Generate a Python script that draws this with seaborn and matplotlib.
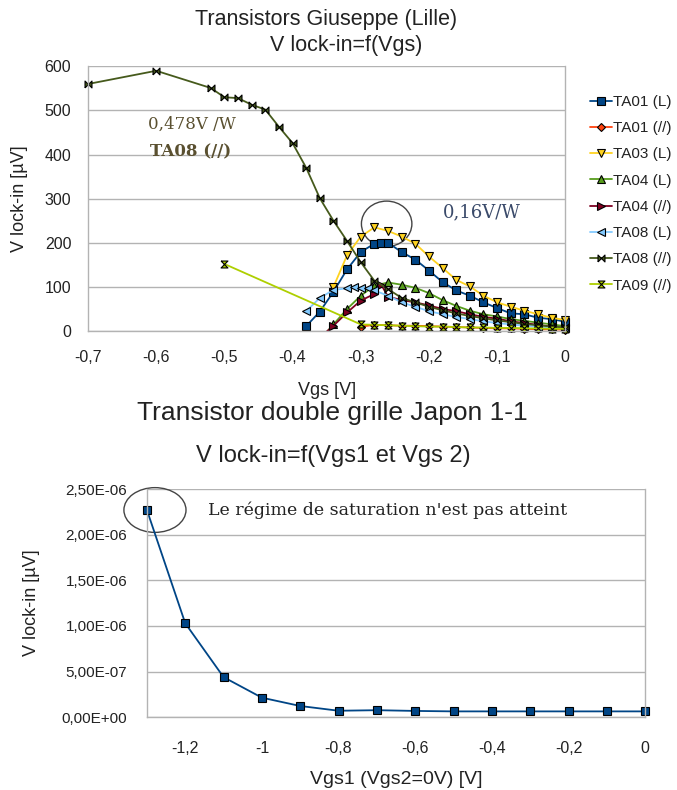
import numpy as np
import pandas as pd
import matplotlib
matplotlib.use("Agg")
import matplotlib.pyplot as plt
from matplotlib.patches import Ellipse
import seaborn as sns

# --- top chart: V lock-in = f(Vgs), one list pair per transistor ---
ta01_l_x = [-0.38, -0.36, -0.34, -0.32, -0.30, -0.28, -0.27, -0.26, -0.24, -0.22, -0.20,
            -0.18, -0.16, -0.14, -0.12, -0.10, -0.08, -0.06, -0.04, -0.02, 0.0]
ta01_l_y = [11, 44, 89, 140, 179, 198, 200, 200, 179, 162, 137,
            111, 92, 80, 65, 52, 40, 38, 30, 27, 21]

ta01_p_x = [-0.30, -0.28, -0.26, -0.24, -0.22, -0.20, -0.18, -0.16, -0.14, -0.12, -0.10,
            -0.08, -0.06, -0.04, -0.02, 0.0]
ta01_p_y = [10, 14, 13, 12, 12, 11, 10, 9, 8, 7, 6, 6, 5, 4, 4, 3]

ta03_l_x = [-0.34, -0.32, -0.30, -0.28, -0.26, -0.24, -0.22, -0.20, -0.18, -0.16, -0.14,
            -0.12, -0.10, -0.08, -0.06, -0.04, -0.02, 0.0]
ta03_l_y = [100, 172, 214, 235, 227, 214, 198, 169, 143, 116, 101, 80, 65, 55, 46, 38, 30, 25]

ta04_l_x = [-0.36, -0.34, -0.32, -0.30, -0.28, -0.26, -0.24, -0.22, -0.20, -0.18, -0.16,
            -0.14, -0.12, -0.10, -0.08, -0.06, -0.04, -0.02, 0.0]
ta04_l_y = [-20, 15, 50, 80, 103, 110, 105, 98, 86, 70, 57, 46, 38, 33, 27, 23, 19, 15, 11]

ta04_p_x = [-0.36, -0.34, -0.32, -0.30, -0.28, -0.27, -0.26, -0.24, -0.22, -0.20, -0.18,
            -0.16, -0.14, -0.12, -0.10, -0.08, -0.06, -0.04, -0.02, 0.0]
ta04_p_y = [-15, 12, 42, 69, 84, 105, 78, 70, 65, 58, 50, 45, 38, 32, 28, 22, 18, 14, 10, 7]

ta08_l_x = [-0.38, -0.36, -0.34, -0.32, -0.31, -0.30, -0.29, -0.28, -0.26, -0.24, -0.22,
            -0.20, -0.18, -0.16, -0.14, -0.12, -0.10, -0.08, -0.06, -0.04, -0.02, 0.0]
ta08_l_y = [45, 75, 93, 97, 99, 98, 97, 92, 80, 65, 55, 45, 38, 32, 27, 22, 18, 15, 12, 10, 8, 6]

ta08_p_x = [-0.70, -0.60, -0.52, -0.50, -0.48, -0.46, -0.44, -0.42, -0.40, -0.38, -0.36,
            -0.34, -0.32, -0.30, -0.28, -0.26, -0.24, -0.22, -0.20, -0.18, -0.16, -0.14,
            -0.12, -0.10, -0.08, -0.06, -0.04, -0.02, 0.0]
ta08_p_y = [560, 590, 551, 530, 528, 513, 502, 463, 426, 370, 301, 250, 204, 156, 114,
            95, 75, 65, 55, 47, 40, 34, 29, 24, 20, 16, 13, 10, 8]

ta09_p_x = [-0.50, -0.30, -0.28, -0.26, -0.24, -0.22, -0.20, -0.18, -0.16, -0.14, -0.12,
            -0.10, -0.08, -0.06, -0.04, -0.02, 0.0]
ta09_p_y = [152, 15, 14, 13, 12, 11, 10, 10, 9, 8, 8, 7, 7, 6, 6, 5, 5]

top_xticks = [-0.7, -0.6, -0.5, -0.4, -0.3, -0.2, -0.1, 0.0]
top_xlabels = ["-0,7", "-0,6", "-0,5", "-0,4", "-0,3", "-0,2", "-0,1", "0"]
top_yticks = [0, 100, 200, 300, 400, 500, 600]

# --- bottom chart: double gate transistor ---
vgs1 = [-1.3, -1.2, -1.1, -1.0, -0.9, -0.8, -0.7, -0.6, -0.5, -0.4, -0.3, -0.2, -0.1, 0.0]
vlock = [2.27e-6, 1.03e-6, 4.4e-7, 2.15e-7, 1.24e-7, 7.2e-8, 7.8e-8, 7.0e-8, 6.5e-8,
         6.5e-8, 6.5e-8, 6.5e-8, 6.5e-8, 6.5e-8]
bot_xticks = [-1.2, -1.0, -0.8, -0.6, -0.4, -0.2, 0.0]
bot_xlabels = ["-1,2", "-1", "-0,8", "-0,6", "-0,4", "-0,2", "0"]
bot_yticks = [0, 5e-7, 1e-6, 1.5e-6, 2e-6, 2.5e-6]
bot_ylabels = ["0,00E+00", "5,00E-07", "1,00E-06", "1,50E-06", "2,00E-06", "2,50E-06"]

sns.set_theme(style="whitegrid")
plt.rcParams["font.family"] = ["Liberation Sans", "DejaVu Sans"]

bowtie = [(-1, -1), (-1, 1), (1, -1), (1, 1), (-1, -1)]
hourglass = [(-1, 1), (1, 1), (-1, -1), (1, -1), (-1, 1)]

series = [
    ("TA01 (L)", ta01_l_x, ta01_l_y, "#004586", "s", 5.5),
    ("TA01 (//)", ta01_p_x, ta01_p_y, "#ff420e", "D", 4.5),
    ("TA03 (L)", ta03_l_x, ta03_l_y, "#ffd320", "v", 5.5),
    ("TA04 (L)", ta04_l_x, ta04_l_y, "#579d1c", "^", 5.5),
    ("TA04 (//)", ta04_p_x, ta04_p_y, "#7e0021", ">", 5.5),
    ("TA08 (L)", ta08_l_x, ta08_l_y, "#83caff", "<", 5.5),
    ("TA08 (//)", ta08_p_x, ta08_p_y, "#465a1c", bowtie, 5),
    ("TA09 (//)", ta09_p_x, ta09_p_y, "#aecf00", hourglass, 5),
]

fig = plt.figure(figsize=(6.77, 7.9), dpi=100)
ax1 = fig.add_axes([0.130, 0.581, 0.705, 0.335])
ax2 = fig.add_axes([0.217, 0.092, 0.736, 0.289])

grid_c = "#b3b3b3"
txt_c = "#222222"

for name, xs, ys, col, mk, ms in series:
    df = pd.DataFrame({"Vgs": xs, "V": ys})
    # TA04 curves start below zero, keep those clipped
    clip = name.startswith("TA04")
    sns.lineplot(data=df, x="Vgs", y="V", ax=ax1, color=col, marker=mk, markersize=ms,
                 markeredgecolor="black", markeredgewidth=0.8, linewidth=1.3, label=name,
                 sort=False, estimator=None, clip_on=clip)

ax1.set_xlim(-0.7, 0.0)
ax1.set_ylim(0, 600)
ax1.set_xticks(top_xticks)
ax1.set_xticklabels(top_xlabels)
ax1.set_yticks(top_yticks)
ax1.set_xlabel("Vgs [V]", fontsize=13, color=txt_c, labelpad=12)
ax1.set_ylabel("V lock-in [µV]", fontsize=13, color=txt_c, labelpad=12)

ax1.add_patch(Ellipse((-0.262, 243), 0.074, 103, fill=False, edgecolor="#444444", lw=1.0))
ax1.text(-0.547, 469, "0,478V /W", family="DejaVu Serif", fontsize=12, color="#5a5030",
         ha="center", va="center")
ax1.text(-0.549, 405, "TA08 (//)", family="DejaVu Serif", fontsize=12, color="#5a5030",
         fontweight="bold", ha="center", va="center")
ax1.text(-0.122, 268, "0,16V/W", family="DejaVu Serif", fontsize=13, color="#3a4a6a",
         ha="center", va="center")

leg = ax1.legend(loc="upper left", bbox_to_anchor=(1.04, 0.915), frameon=False, fontsize=11,
                 labelspacing=0.8, handlelength=1.4, handletextpad=0.1, borderaxespad=0)
for t in leg.get_texts():
    t.set_color(txt_c)

sns.lineplot(x=vgs1, y=vlock, ax=ax2, color="#004586", marker="s", markersize=5.5,
             markeredgecolor="black", markeredgewidth=0.8, linewidth=1.3, sort=False,
             estimator=None, clip_on=False)
ax2.set_xlim(-1.3, 0.0)
ax2.set_ylim(0, 2.5e-6)
ax2.set_xticks(bot_xticks)
ax2.set_xticklabels(bot_xlabels)
ax2.set_yticks(bot_yticks)
ax2.set_yticklabels(bot_ylabels)
ax2.set_xlabel("Vgs1 (Vgs2=0V) [V]", fontsize=14, color=txt_c, labelpad=11)
ax2.set_ylabel("V lock-in [µV]", fontsize=13, color=txt_c, labelpad=16)
ax2.add_patch(Ellipse((-1.279, 2.27e-6), 0.162, 4.9e-7, fill=False, edgecolor="#444444",
                      lw=1.0, clip_on=False))
ax2.text(-1.14, 2.27e-6, "Le régime de saturation n'est pas atteint",
         family="DejaVu Serif", fontsize=12.5, color=txt_c, ha="left", va="center")

for ax in (ax1, ax2):
    ax.grid(False)
    ax.yaxis.grid(True, color=grid_c, lw=1.0)
    ax.set_facecolor("white")
    for side in ("left", "bottom", "right"):
        ax.spines[side].set_visible(True)
        ax.spines[side].set_color(grid_c)
        ax.spines[side].set_linewidth(1.0)
    ax.spines["top"].set_visible(False)
    ax.tick_params(axis="x", length=7, width=1.0, color=grid_c, labelsize=11.5,
                   labelcolor=txt_c, direction="out", pad=7)
    ax.tick_params(axis="y", length=6, width=1.0, color=grid_c, labelsize=11.5,
                   labelcolor=txt_c, direction="out", pad=6)
    ax.set_axisbelow(True)

ax2.tick_params(axis="y", labelsize=11, length=7, pad=7)
ax2.tick_params(axis="x", pad=10)

fig.text(0.482, 0.975, "Transistors Giuseppe (Lille)", fontsize=15.5, color=txt_c,
         ha="center", va="center")
fig.text(0.511, 0.942, "V lock-in=f(Vgs)", fontsize=15.5, color=txt_c, ha="center",
         va="center")
fig.text(0.491, 0.477, "Transistor double grille Japon 1-1", fontsize=19, color=txt_c,
         ha="center", va="center")
fig.text(0.492, 0.423, "V lock-in=f(Vgs1 et Vgs 2)", fontsize=17, color=txt_c,
         ha="center", va="center")

fig.savefig("out.png", dpi=100, facecolor="white")
